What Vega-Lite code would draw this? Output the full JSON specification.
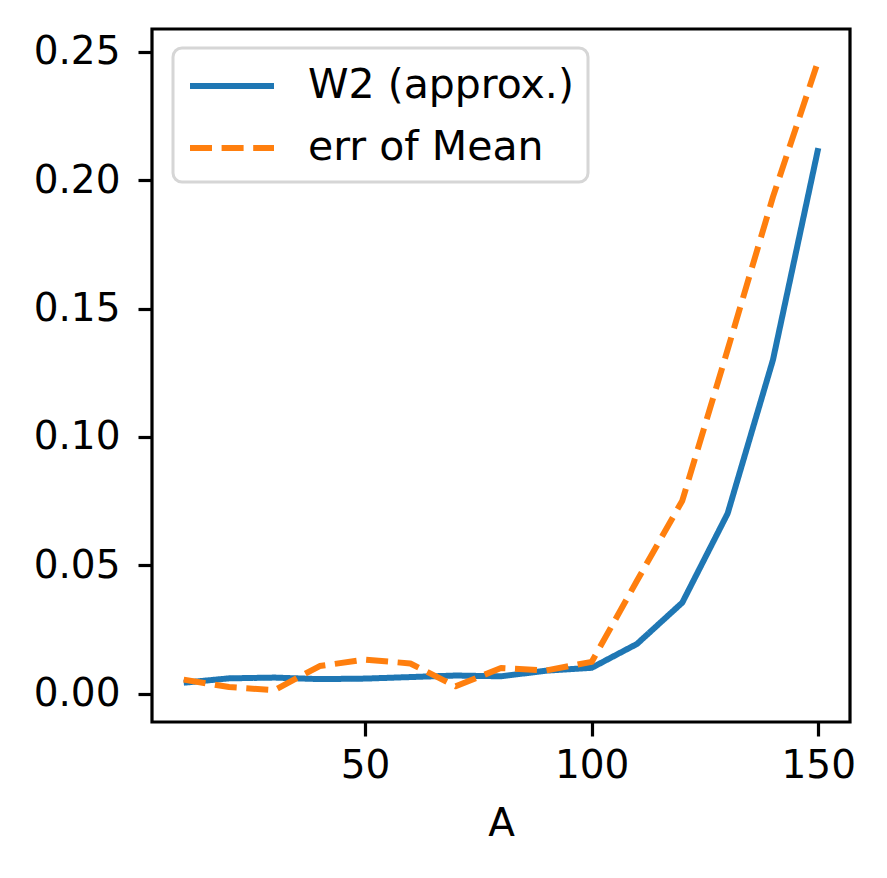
{
  "$schema": "https://vega.github.io/schema/vega-lite/v6.json",
  "width": 698,
  "height": 693,
  "autosize": {"type": "none"},
  "padding": {"left": 152, "top": 29, "right": 37, "bottom": 156},
  "background": "white",
  "view": {"stroke": "black", "strokeWidth": 3.2},
  "config": {
    "font": "DejaVu Sans",
    "axis": {
      "labelFont": "DejaVu Sans",
      "labelFontSize": 39,
      "labelColor": "black",
      "tickColor": "black",
      "tickSize": 14,
      "tickWidth": 3.2,
      "domain": false,
      "grid": false,
      "labelPadding": 12,
      "titleFont": "DejaVu Sans",
      "titleFontSize": 39,
      "titleFontWeight": "normal",
      "titleColor": "black"
    }
  },
  "data": {
    "values": [
      {"A": 10, "series": "W2 (approx.)", "value": 0.0043},
      {"A": 20, "series": "W2 (approx.)", "value": 0.0060},
      {"A": 30, "series": "W2 (approx.)", "value": 0.0063},
      {"A": 40, "series": "W2 (approx.)", "value": 0.0057},
      {"A": 50, "series": "W2 (approx.)", "value": 0.0059},
      {"A": 60, "series": "W2 (approx.)", "value": 0.0065},
      {"A": 70, "series": "W2 (approx.)", "value": 0.0071},
      {"A": 80, "series": "W2 (approx.)", "value": 0.0068},
      {"A": 90, "series": "W2 (approx.)", "value": 0.0090},
      {"A": 100, "series": "W2 (approx.)", "value": 0.0101},
      {"A": 110, "series": "W2 (approx.)", "value": 0.0194},
      {"A": 120, "series": "W2 (approx.)", "value": 0.0355},
      {"A": 130, "series": "W2 (approx.)", "value": 0.0702},
      {"A": 140, "series": "W2 (approx.)", "value": 0.1300},
      {"A": 150, "series": "W2 (approx.)", "value": 0.2125},
      {"A": 10, "series": "err of Mean", "value": 0.0055},
      {"A": 20, "series": "err of Mean", "value": 0.0026},
      {"A": 30, "series": "err of Mean", "value": 0.0014},
      {"A": 40, "series": "err of Mean", "value": 0.0108},
      {"A": 50, "series": "err of Mean", "value": 0.0133},
      {"A": 60, "series": "err of Mean", "value": 0.0118},
      {"A": 70, "series": "err of Mean", "value": 0.0029},
      {"A": 80, "series": "err of Mean", "value": 0.0100},
      {"A": 90, "series": "err of Mean", "value": 0.0091},
      {"A": 100, "series": "err of Mean", "value": 0.0124},
      {"A": 110, "series": "err of Mean", "value": 0.0440},
      {"A": 120, "series": "err of Mean", "value": 0.0752},
      {"A": 130, "series": "err of Mean", "value": 0.1340},
      {"A": 140, "series": "err of Mean", "value": 0.1935},
      {"A": 150, "series": "err of Mean", "value": 0.2466}
    ]
  },
  "mark": {"type": "line", "strokeWidth": 6, "strokeJoin": "round", "clip": true},
  "encoding": {
    "x": {
      "field": "A",
      "type": "quantitative",
      "scale": {"domain": [3, 157], "nice": false, "zero": false},
      "axis": {"values": [50, 100, 150], "title": "A", "titlePadding": 19, "labelPadding": 10}
    },
    "y": {
      "field": "value",
      "type": "quantitative",
      "scale": {"domain": [-0.011, 0.2589], "nice": false, "zero": false},
      "axis": {"values": [0, 0.05, 0.1, 0.15, 0.2, 0.25], "format": ".2f", "title": null, "labelPadding": 18}
    },
    "color": {
      "field": "series",
      "type": "nominal",
      "scale": {"domain": ["W2 (approx.)", "err of Mean"], "range": ["#1f77b4", "#ff7f0e"]},
      "legend": {
        "title": null,
        "orient": "none",
        "legendX": 21,
        "legendY": 19,
        "fillColor": "white",
        "strokeColor": "#d6d6d6",
        "cornerRadius": 9,
        "padding": 14,
        "symbolType": "M-1,0H3",
        "symbolSize": 1764,
        "symbolStrokeWidth": 6,
        "labelFont": "DejaVu Sans",
        "labelFontSize": 41,
        "labelColor": "black",
        "labelOffset": 73,
        "labelLimit": 600,
        "rowPadding": 18,
        "encode": {"legend": {"update": {"strokeWidth": {"value": 3}}}}
      }
    },
    "strokeDash": {
      "field": "series",
      "type": "nominal",
      "scale": {"domain": ["W2 (approx.)", "err of Mean"], "range": [[1, 0], [22, 9.6]]},
      "legend": null
    }
  }
}
